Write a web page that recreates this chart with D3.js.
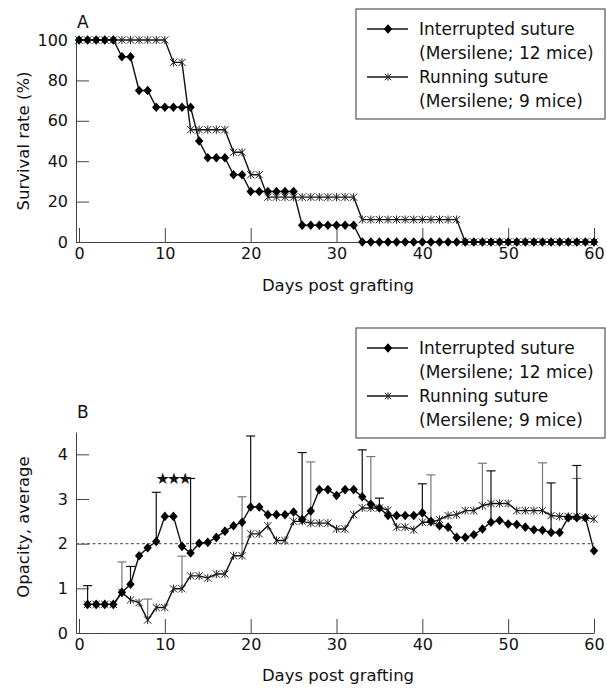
<!DOCTYPE html>
<html>
<head>
<meta charset="utf-8">
<script src="https://cdn.jsdelivr.net/npm/d3@7"></script>
<style>
  body { margin: 0; background: #fff; }
  text { font-family: "DejaVu Sans", sans-serif; fill: #111; }
</style>
</head>
<body>
<div id="chart"></div>
<script>
// Panel A: survival (%) per day, days 0..60
var survDays = d3.range(0, 61);
var survInterrupted = [100, 100, 100, 100, 100, 91.7, 91.7, 75, 75, 66.7,
  66.7, 66.7, 66.7, 66.7, 50, 41.7, 41.7, 41.7, 33.3, 33.3,
  25, 25, 25, 25, 25, 25, 8.3, 8.3, 8.3, 8.3,
  8.3, 8.3, 8.3, 0, 0, 0, 0, 0, 0, 0,
  0, 0, 0, 0, 0, 0, 0, 0, 0, 0,
  0, 0, 0, 0, 0, 0, 0, 0, 0, 0, 0];
var survRunning = [100, 100, 100, 100, 100, 100, 100, 100, 100, 100,
  100, 88.9, 88.9, 55.6, 55.6, 55.6, 55.6, 55.6, 44.4, 44.4,
  33.3, 33.3, 22.2, 22.2, 22.2, 22.2, 22.2, 22.2, 22.2, 22.2,
  22.2, 22.2, 22.2, 11.1, 11.1, 11.1, 11.1, 11.1, 11.1, 11.1,
  11.1, 11.1, 11.1, 11.1, 11.1, 0, 0, 0, 0, 0,
  0, 0, 0, 0, 0, 0, 0, 0, 0, 0, 0];

// Panel B: average opacity per day, days 1..60
var opDays = d3.range(1, 61);
var opInterrupted = [0.64, 0.64, 0.64, 0.64, 0.91, 1.09, 1.73, 1.91, 2.05, 2.61,
  2.61, 1.94, 1.79, 2.01, 2.03, 2.14, 2.28, 2.40, 2.48, 2.82,
  2.82, 2.65, 2.65, 2.65, 2.71, 2.54, 2.73, 3.21, 3.21, 3.08,
  3.21, 3.21, 3.05, 2.88, 2.80, 2.63, 2.63, 2.63, 2.63, 2.69,
  2.50, 2.40, 2.37, 2.14, 2.14, 2.20, 2.33, 2.48, 2.52, 2.44,
  2.43, 2.37, 2.31, 2.30, 2.25, 2.25, 2.58, 2.58, 2.58, 1.84];
var opRunning = [0.64, 0.64, 0.64, 0.64, 0.91, 0.74, 0.68, 0.29, 0.57, 0.57,
  0.99, 0.99, 1.28, 1.28, 1.23, 1.32, 1.32, 1.73, 1.73, 2.22,
  2.22, 2.40, 2.07, 2.07, 2.50, 2.50, 2.46, 2.46, 2.46, 2.33,
  2.33, 2.65, 2.80, 2.80, 2.80, 2.75, 2.37, 2.37, 2.31, 2.48,
  2.48, 2.54, 2.63, 2.65, 2.74, 2.74, 2.85, 2.90, 2.90, 2.90,
  2.74, 2.74, 2.74, 2.74, 2.63, 2.61, 2.61, 2.61, 2.58, 2.55];

// Upper error bars (SD) on selected days
var errDaysInterrupted = [1, 6, 9, 13, 20, 26, 33, 35, 40, 48, 55, 58];
var errTopInterrupted = [1.06, 1.49, 3.15, 3.46, 4.41, 4.04, 4.10, 3.02, 3.34, 3.63, 3.36, 3.75];
var errDaysRunning = [5, 8, 12, 19, 27, 34, 41, 47, 54, 58];
var errTopRunning = [1.59, 0.76, 1.72, 3.05, 3.83, 3.95, 3.54, 3.80, 3.81, 3.46];

var xTicks = [0, 10, 20, 30, 40, 50, 60];
var yTicksA = [0, 20, 40, 60, 80, 100];
var yTicksB = [0, 1, 2, 3, 4];
var legendLabels = [["Interrupted suture", "(Mersilene; 12 mice)"],
  ["Running suture", "(Mersilene; 9 mice)"]];
var signifLabel = "\u2605\u2605\u2605";
var signifDay = 11, signifValue = 3.48;
var refLevel = 2;

var W = 607, H = 688;
var svg = d3.select("#chart").append("svg")
  .attr("width", W).attr("height", H);

var x = d3.scaleLinear().domain([-0.35, 60]).range([76, 594]);
var yA = d3.scaleLinear().domain([0, 100]).range([242, 40]);
var yB = d3.scaleLinear().domain([0, 4.5]).range([633, 432]);

var diamond = "M0,-4.8L4.2,0L0,4.8L-4.2,0Z";
function asterisk(s) {
  return "M" + -s + "," + -s + "L" + s + "," + s +
    "M" + -s + "," + s + "L" + s + "," + -s +
    "M0," + (-s - 0.5) + "L0," + (s + 0.5);
}

// Axes with inward ticks
function drawAxes(y, yTicks, baseY) {
  var gx = svg.append("g")
    .attr("transform", "translate(0," + baseY + ")")
    .call(d3.axisBottom(x).tickValues(xTicks).tickSizeInner(-14).tickSizeOuter(0).tickPadding(6));
  gx.select(".domain").attr("stroke", "#444");
  gx.selectAll(".tick line").attr("stroke", "#444");
  gx.selectAll("text").style("font-size", "16px").attr("fill", "#111");

  var gy = svg.append("g")
    .attr("transform", "translate(76,0)")
    .call(d3.axisLeft(y).tickValues(yTicks).tickFormat(d3.format("d"))
      .tickSizeInner(-13).tickSizeOuter(0).tickPadding(8));
  gy.select(".domain").attr("stroke", "#444");
  gy.selectAll(".tick line").attr("stroke", "#444");
  gy.selectAll("text").style("font-size", "16px").attr("fill", "#111");
}

function drawSeries(days, vals, y, marker) {
  var pts = days.map(function (d, i) { return [d, vals[i]]; });
  svg.append("path")
    .datum(pts)
    .attr("fill", "none")
    .attr("stroke", "#111")
    .attr("stroke-width", 1.4)
    .attr("d", d3.line().x(function (d) { return x(d[0]); }).y(function (d) { return y(d[1]); }));
  var g = svg.append("g").selectAll("path.m").data(pts).enter().append("path")
    .attr("class", "m")
    .attr("transform", function (d) { return "translate(" + x(d[0]) + "," + y(d[1]) + ")"; });
  if (marker === "diamond") {
    g.attr("d", diamond).attr("fill", "#000");
  } else {
    g.attr("d", asterisk(3.6)).attr("fill", "none").attr("stroke", "#222").attr("stroke-width", 1);
  }
}

function drawErrors(days, tops, series, seriesDays, color) {
  var bars = svg.append("g").selectAll("g").data(days).enter().append("g");
  bars.append("line")
    .attr("x1", function (d) { return x(d); })
    .attr("x2", function (d) { return x(d); })
    .attr("y1", function (d) { return yB(series[seriesDays.indexOf(d)]); })
    .attr("y2", function (d, i) { return yB(tops[i]); })
    .attr("stroke", color).attr("stroke-width", 1.2);
  bars.append("line")
    .attr("x1", function (d) { return x(d) - 4.5; })
    .attr("x2", function (d) { return x(d) + 4.5; })
    .attr("y1", function (d, i) { return yB(tops[i]); })
    .attr("y2", function (d, i) { return yB(tops[i]); })
    .attr("stroke", color).attr("stroke-width", 1.2);
}

function drawLegend(top) {
  var g = svg.append("g").attr("transform", "translate(356," + top + ")");
  g.append("rect").attr("x", 0).attr("y", 0).attr("width", 249).attr("height", 110)
    .attr("fill", "#fff").attr("stroke", "#555").attr("stroke-width", 1.2);
  legendLabels.forEach(function (lines, i) {
    var cy = 20 + i * 48;
    g.append("line").attr("x1", 11).attr("x2", 52).attr("y1", cy).attr("y2", cy)
      .attr("stroke", "#111").attr("stroke-width", 1.4);
    if (i === 0) {
      g.append("path").attr("d", diamond).attr("transform", "translate(32," + cy + ")").attr("fill", "#000");
    } else {
      g.append("path").attr("d", asterisk(3.2)).attr("transform", "translate(32," + cy + ")")
        .attr("fill", "none").attr("stroke", "#222");
    }
    lines.forEach(function (t, j) {
      g.append("text").attr("x", 63).attr("y", cy + 6 + j * 24)
        .style("font-size", "17px").text(t);
    });
  });
}

function axisTitles(label, yTitle, yCenter, xTitleY, panelLabelY) {
  svg.append("text").attr("x", 77).attr("y", panelLabelY)
    .style("font-size", "17px").text(label);
  svg.append("text")
    .attr("transform", "translate(29," + yCenter + ") rotate(-90)")
    .attr("text-anchor", "middle").style("font-size", "16.5px").text(yTitle);
  svg.append("text").attr("x", 338).attr("y", xTitleY)
    .attr("text-anchor", "middle").style("font-size", "16.5px").text("Days post grafting");
}

// ---- Panel A ----
drawAxes(yA, yTicksA, 242);
drawSeries(survDays, survRunning, yA, "asterisk");
drawSeries(survDays, survInterrupted, yA, "diamond");
axisTitles("A", "Survival rate (%)", 141, 291, 28);
drawLegend(9);

// ---- Panel B ----
drawAxes(yB, yTicksB, 633);
svg.append("line")
  .attr("x1", x(-0.35)).attr("x2", x(60))
  .attr("y1", yB(refLevel)).attr("y2", yB(refLevel))
  .attr("stroke", "#666").attr("stroke-width", 1.2).attr("stroke-dasharray", "3,2.5");
drawErrors(errDaysRunning, errTopRunning, opRunning, opDays, "#777");
drawErrors(errDaysInterrupted, errTopInterrupted, opInterrupted, opDays, "#111");
drawSeries(opDays, opRunning, yB, "asterisk");
drawSeries(opDays, opInterrupted, yB, "diamond");
// significance stars
svg.append("text")
  .attr("x", x(signifDay) - 1).attr("y", yB(signifValue) + 6)
  .attr("text-anchor", "middle").style("font-size", "16px")
  .style("letter-spacing", "-3px").attr("fill", "#000").text(signifLabel);
axisTitles("B", "Opacity, average", 527, 681, 418);
drawLegend(328);
</script>
</body>
</html>
